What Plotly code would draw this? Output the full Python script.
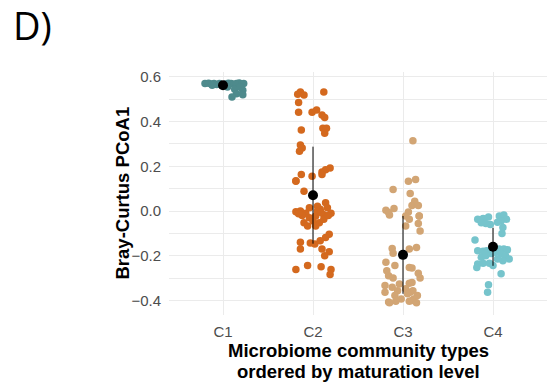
import plotly.graph_objects as go

categories = ["C1", "C2", "C3", "C4"]
colors = ["#4e8a8c", "#d4691e", "#d2a574", "#76c4cc"]

# (jitter offset, PCoA1 value) per community type
c1_jit = [-0.20, -0.16, -0.13, -0.10, -0.07, -0.04, -0.02, 0.03, 0.06, 0.09, 0.12, 0.15, 0.18, 0.21, 0.23, 0.13, 0.22, 0.15, 0.22, 0.10, 0.05, -0.12, 0.19]
c1_val = [0.570, 0.572, 0.568, 0.571, 0.566, 0.570, 0.565, 0.568, 0.572, 0.570, 0.567, 0.571, 0.573, 0.569, 0.570, 0.545, 0.540, 0.525, 0.520, 0.510, 0.555, 0.563, 0.555]

c2_jit = [-0.14, -0.10, -0.17, 0.12, -0.16, -0.16, -0.01, 0.04, 0.10, 0.13, -0.13, 0.11, 0.15, 0.13,
          -0.14, -0.12, -0.15, 0.10, 0.14, 0.19, 0.10, -0.13, -0.19, -0.01,
          -0.19, -0.10, -0.19, -0.14, -0.08, -0.04, 0.05, 0.08, 0.14, 0.16, 0.20, 0.12, 0.03, -0.04,
          -0.10, 0.00, 0.07, 0.12, 0.17, -0.12, 0.05, 0.09, -0.06, 0.03, -0.16,
          0.18, 0.14, -0.14, -0.03, 0.02, 0.08, 0.10, -0.14, 0.18, 0.13, -0.19, -0.06, 0.09, 0.20, 0.19]
c2_val = [0.533, 0.519, 0.522, 0.533, 0.486, 0.442, 0.442, 0.452, 0.430, 0.418, 0.363, 0.370, 0.370, 0.348,
          0.296, 0.282, 0.267, 0.175, 0.185, 0.193, 0.163, 0.163, 0.136, 0.156,
          0.133, 0.089, -0.003, 0.000, -0.010, 0.015, 0.022, 0.008, 0.037, 0.015, -0.010, -0.017, -0.022, -0.030,
          -0.052, -0.045, -0.052, -0.037, -0.020, -0.020, 0.000, -0.007, -0.067, -0.067, -0.012,
          -0.104, -0.118, -0.140, -0.143, -0.147, -0.133, -0.170, -0.170, -0.182, -0.200, -0.262, -0.244, -0.249, -0.262, -0.284]

c3_jit = [0.11, 0.06, 0.14, -0.11, 0.08, 0.13, 0.10, 0.17, -0.19, -0.10, -0.16, 0.06, 0.18,
          -0.15, 0.03, 0.07, 0.18, 0.17, 0.03, 0.19, -0.12, 0.07, 0.15, -0.11, -0.19, -0.09, 0.07, 0.10,
          0.17, -0.16, -0.11, -0.18, 0.19, 0.07, 0.10, -0.20, -0.12, -0.06, 0.03, 0.08, 0.11, 0.16,
          -0.20, -0.09, -0.16, -0.02, 0.07, 0.12, 0.05, -0.04, -0.15, -0.08, 0.10, 0.15]
c3_val = [0.314, 0.133, 0.141, 0.096, 0.079, 0.044, 0.025, 0.025, 0.004, 0.011, -0.007, -0.004, -0.022,
          -0.018, -0.022, -0.037, -0.022, -0.056, -0.067, -0.089, -0.167, -0.170, -0.163, -0.189, -0.229, -0.244, -0.252, -0.255,
          -0.278, -0.289, -0.299, -0.267, -0.299, -0.323, -0.320, -0.333, -0.341, -0.356, -0.348, -0.363, -0.356, -0.378,
          -0.363, -0.378, -0.407, -0.393, -0.403, -0.393, -0.370, -0.326, -0.410, -0.404, -0.400, -0.410]

c4_jit = [-0.17, -0.11, -0.05, -0.13, -0.08, -0.03, 0.07, 0.12, 0.15, 0.09, 0.05, 0.11, 0.10, -0.20,
          -0.17, -0.11, -0.07, -0.13, -0.08, 0.07, 0.12, 0.16, 0.09, 0.14, 0.18, 0.11, 0.05,
          -0.17, -0.11, -0.04, -0.18, 0.00, 0.09, -0.05, -0.06, 0.03, -0.02]
c4_val = [-0.037, -0.033, -0.027, -0.052, -0.056, -0.060, -0.022, -0.018, -0.037, -0.044, -0.050, -0.074, -0.100, -0.130,
          -0.178, -0.180, -0.178, -0.207, -0.200, -0.170, -0.170, -0.173, -0.192, -0.200, -0.215, -0.222, -0.215,
          -0.237, -0.234, -0.234, -0.252, -0.244, -0.281, -0.330, -0.363, -0.185, -0.190]

means = [0.563, 0.071, -0.196, -0.160]
sds = [0.017, 0.217, 0.174, 0.085]

groups = [(c1_jit, c1_val), (c2_jit, c2_val), (c3_jit, c3_val), (c4_jit, c4_val)]

fig = go.Figure()
for i, (jit, val) in enumerate(groups):
    fig.add_trace(go.Scatter(
        x=[i + 1 + j for j in jit], y=val, mode="markers",
        marker=dict(size=7.5, color=colors[i], line=dict(width=0)),
        showlegend=False, hoverinfo="skip"))

fig.add_trace(go.Scatter(
    x=[1, 2, 3, 4], y=means, mode="markers",
    marker=dict(size=10, color="black"),
    error_y=dict(type="data", array=sds, symmetric=True, width=0, thickness=1, color="black"),
    showlegend=False))

L, R, T, B = 169, 0, 72, 71
W, H = 547, 386
pw, ph = W - L - R, H - T - B

grid = "#ebebeb"
fig.update_layout(
    width=W, height=H,
    margin=dict(l=L, r=R, t=T, b=B),
    paper_bgcolor="white", plot_bgcolor="white",
    font=dict(family="Liberation Sans, Arial, sans-serif", color="#4d4d4d"),
    xaxis=dict(
        range=[0.4, 4.6], tickvals=[1, 2, 3, 4], ticktext=categories,
        showgrid=True, gridcolor=grid, gridwidth=1.3, zeroline=False,
        showline=False, ticks="", tickfont=dict(size=15, color="#4d4d4d"),
        ticklabelstandoff=6),
    yaxis=dict(
        range=[-0.465, 0.622], tickvals=[-0.4, -0.2, 0.0, 0.2, 0.4, 0.6],
        tickformat=".1f", showgrid=True, gridcolor=grid, gridwidth=1.3, zeroline=False,
        showline=False, ticks="outside", ticklen=4, tickcolor="rgba(0,0,0,0)",
        tickfont=dict(size=15, color="#4d4d4d"),
        minor=dict(tickvals=[-0.3, -0.1, 0.1, 0.3, 0.5], showgrid=True, gridcolor=grid, gridwidth=0.7)),
)

title_font = dict(size=18.5, color="black", family="Liberation Sans, Arial, sans-serif")
fig.add_annotation(text="<b>Microbiome community types</b>", xref="paper", yref="paper",
                   x=0.5, y=(T + ph - 350) / ph, xanchor="center", yanchor="middle",
                   showarrow=False, font=title_font)
fig.add_annotation(text="<b>ordered by maturation level</b>", xref="paper", yref="paper",
                   x=0.5, y=(T + ph - 371) / ph, xanchor="center", yanchor="middle",
                   showarrow=False, font=title_font)
fig.add_annotation(text="<b>Bray-Curtus PCoA1</b>", xref="paper", yref="paper",
                   x=(122 - L) / pw, y=0.5, xanchor="center", yanchor="middle",
                   textangle=-90, showarrow=False, font=title_font)
fig.add_annotation(text="D)", xref="paper", yref="paper", x=(11 - L) / pw, y=(T + ph + 3) / ph,
                   xanchor="left", yanchor="top", showarrow=False,
                   font=dict(size=38, color="black", family="Open Sans, sans-serif"))

fig.write_html("out.html")
